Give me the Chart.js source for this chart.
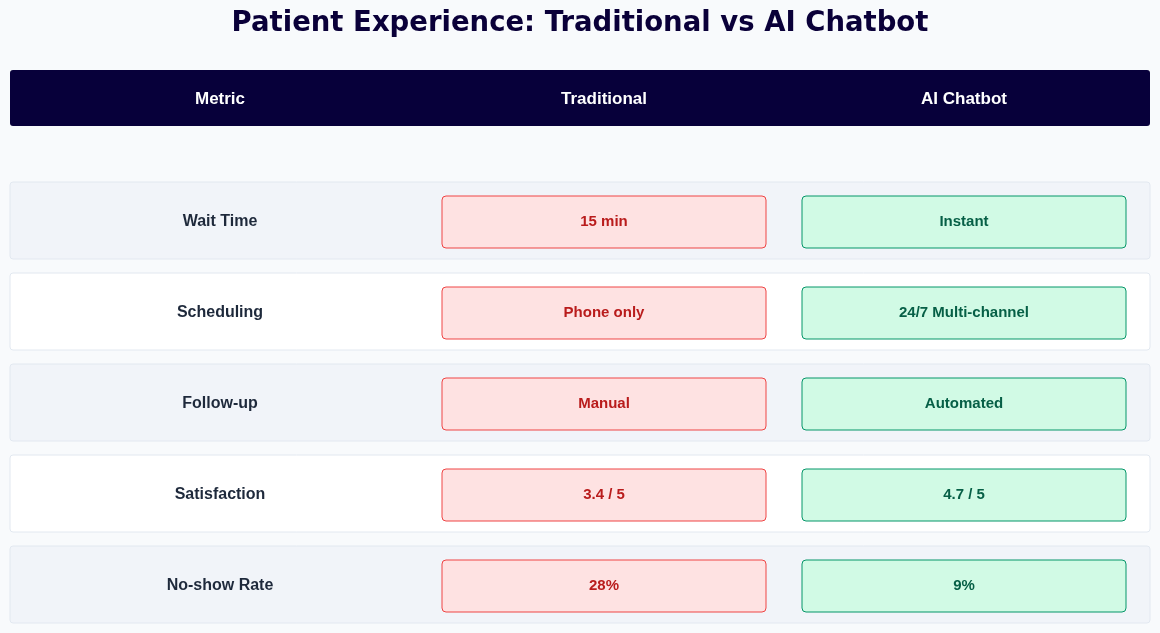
<!DOCTYPE html>
<html><head><meta charset="utf-8">
<script src="https://cdn.jsdelivr.net/npm/chart.js@4"></script>
<style>html,body{margin:0;padding:0;background:#f8fafc;}#wrap{width:1160px;height:633px;}</style>
</head><body><div id="wrap"><canvas id="c"></canvas></div>
<script>
const title = "Patient Experience: Traditional vs AI Chatbot";
const headers = ["Metric", "Traditional", "AI Chatbot"];
const metrics = ["Wait Time", "Scheduling", "Follow-up", "Satisfaction", "No-show Rate"];
const traditional = ["15 min", "Phone only", "Manual", "3.4 / 5", "28%"];
const aiChatbot = ["Instant", "24/7 Multi-channel", "Automated", "4.7 / 5", "9%"];

function rr(ctx,x,y,w,h,r){ctx.beginPath();ctx.moveTo(x+r,y);ctx.arcTo(x+w,y,x+w,y+h,r);ctx.arcTo(x+w,y+h,x,y+h,r);ctx.arcTo(x,y+h,x,y,r);ctx.arcTo(x,y,x+w,y,r);ctx.closePath();}
const F = '"Liberation Sans", Arial, sans-serif';
const TF = 'DejaVu Sans, sans-serif';
const tablePlugin = {
  id:'table',
  afterDraw(chart){
    const ctx=chart.ctx, xs=chart.scales.x, ys=chart.scales.y;
    const X=v=>xs.getPixelForValue(v);
    ctx.save();
    ctx.textAlign='center';ctx.textBaseline='middle';
    ctx.fillStyle='#0a0039';ctx.font='bold 27.5px '+TF;
    ctx.fillText(title,X(580),24);
    ctx.fillStyle='#07003a';rr(ctx,X(10),70,X(1150)-X(10),56,3);ctx.fill();
    ctx.fillStyle='#ffffff';ctx.font='bold 17px '+F;
    const cx=[220,604,964];
    headers.forEach((h,i)=>ctx.fillText(h,X(cx[i]),99));
    metrics.forEach((m,i)=>{
      const yc=ys.getPixelForValue(i);
      const top=yc-38.5;
      ctx.fillStyle=i%2===0?'#f1f4f9':'#ffffff';
      rr(ctx,X(10),top,X(1150)-X(10),77,3);ctx.fill();
      ctx.strokeStyle='#e2e8f0';ctx.lineWidth=1;ctx.stroke();
      ctx.fillStyle='#1e293b';ctx.font='bold 16px '+F;
      ctx.fillText(m,X(220),yc+1);
      rr(ctx,X(442),top+14,X(766)-X(442),52,4);
      ctx.fillStyle='#fee2e2';ctx.fill();ctx.strokeStyle='#ef4444';ctx.stroke();
      ctx.fillStyle='#b91c1c';ctx.font='bold 15px '+F;
      ctx.fillText(traditional[i],X(604),yc+1);
      rr(ctx,X(802),top+14,X(1126)-X(802),52,4);
      ctx.fillStyle='#d1fae5';ctx.fill();ctx.strokeStyle='#059669';ctx.stroke();
      ctx.fillStyle='#065f46';
      ctx.fillText(aiChatbot[i],X(964),yc+1);
    });
    ctx.restore();
  }
};
new Chart(document.getElementById('c'),{
  type:'bar',
  data:{labels:metrics,datasets:[{data:metrics.map(()=>null)}]},
  options:{
    indexAxis:'y',responsive:true,maintainAspectRatio:false,animation:false,
    layout:{padding:{top:175,bottom:3,left:0,right:0}},
    plugins:{legend:{display:false},tooltip:{enabled:false}},
    scales:{
      x:{type:'linear',min:0,max:1160,display:false},
      y:{type:'category',offset:true,display:false,grid:{display:false}}
    }
  },
  plugins:[tablePlugin]
});
</script></body></html>
